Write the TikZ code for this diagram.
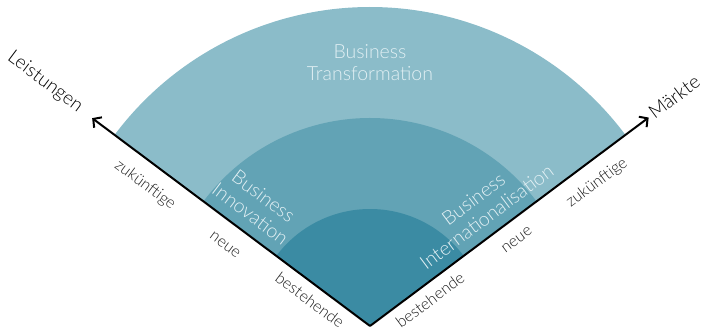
\documentclass[tikz,border=0pt]{standalone}
\usepackage{fontspec}
\setmainfont{Lato}[UprightFont=* Light]
\usetikzlibrary{arrows.meta}
\definecolor{outerc}{RGB}{139,188,201}
\definecolor{midc}{RGB}{98,163,181}
\definecolor{innerc}{RGB}{59,139,163}
\definecolor{txtc}{RGB}{226,240,244}
\definecolor{axtxt}{RGB}{30,30,30}
\tikzset{
  sectortxt/.style={text=txtc, font=\fontsize{19.5}{22}\selectfont, align=center, inner sep=0pt},
  axlabel/.style={text=axtxt, font=\fontsize{16}{18}\selectfont, inner sep=0pt},
  axname/.style={text=black, font=\fontsize{19}{21}\selectfont, inner sep=0pt},
  axis/.style={line width=2pt, -{Straight Barb[length=6pt,width=13pt,line width=2pt]}},
}
\begin{document}
\begin{tikzpicture}[x=1pt,y=1pt]
\useasboundingbox (0,0) rectangle (702,336);
\coordinate (O) at (370,10);
\fill[outerc] (O) -- ++(36.8:319) arc[start angle=36.8,end angle=143.2,radius=319] -- cycle;
\fill[midc] (O) -- ++(36.8:208) arc[start angle=36.8,end angle=143.2,radius=208] -- cycle;
\fill[innerc] (O) -- ++(36.8:117) arc[start angle=36.8,end angle=143.2,radius=117] -- cycle;
\coordinate (L) at ([shift={(143.2:347)}]O);
\coordinate (R) at ([shift={(36.8:348)}]O);
\draw[axis] (O) -- (L);
\draw[axis] (O) -- (R);
\node[sectortxt] (bt) at (370,273) {Business\\Transformation};
\node[sectortxt, rotate=-36.8] (bi) at (257,131) {Business\\Innovation};
\node[sectortxt, rotate=36.8] (bint) at (480,128) {Business\\Internationalisation};
\node[axlabel, rotate=-36.8] (lz) at (145,151) {zukünftige};
\node[axlabel, rotate=-36.8] (ln) at (225,91) {neue};
\node[axlabel, rotate=-36.8] (lb) at (310,36) {bestehende};
\node[axlabel, rotate=36.8] (rb) at (430,36) {bestehende};
\node[axlabel, rotate=36.8] (rn) at (517,96) {neue};
\node[axlabel, rotate=36.8] (rz) at (597,153) {zukünftige};
\node[axname, rotate=-36.8] (lei) at (45,254) {Leistungen};
\node[axname, rotate=36.8] (mar) at (674,239) {Märkte};
\end{tikzpicture}
\end{document}
